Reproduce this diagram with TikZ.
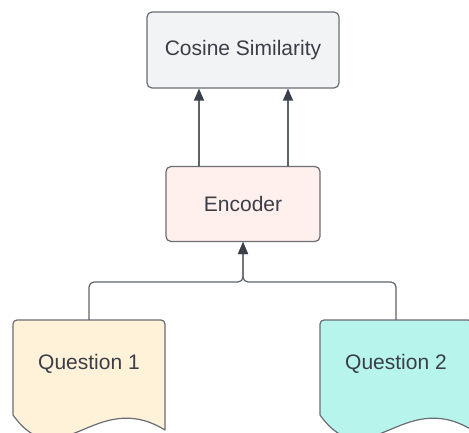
\documentclass[tikz,border=0pt]{standalone}
\usepackage{fontspec}
\setmainfont{Liberation Sans}
\usetikzlibrary{arrows.meta}

\definecolor{edgegray}{HTML}{6A6D74}
\definecolor{linkgray}{HTML}{5E6269}
\definecolor{tipgray}{HTML}{3A414A}
\definecolor{textgray}{HTML}{3A3F47}
\definecolor{cosfill}{HTML}{F2F3F5}
\definecolor{encfill}{HTML}{FFEFED}
\definecolor{qonefill}{HTML}{FFF2D9}
\definecolor{qtwofill}{HTML}{B7F4EC}

% document outline, #1 = left edge, #2 = fill
\newcommand{\docshape}[2]{
  \draw[draw=edgegray, line width=1.2pt, fill=#2]
    (#1,17) -- (#1,108) arc[start angle=180, end angle=90, radius=4]
    -- ({#1+148},112) arc[start angle=90, end angle=0, radius=4]
    -- ({#1+152},2) .. controls ({#1+82},45) and ({#1+47},-48) .. (#1,17) -- cycle;
}

\begin{document}
\begin{tikzpicture}[x=1pt, y=1pt, line cap=round, line join=round,
    box/.style={draw=edgegray, line width=1.2pt, rounded corners=5pt, text=textgray,
      font=\fontsize{21}{25}\selectfont},
    doctext/.style={text=textgray, minimum width=152pt, minimum height=88pt,
      font=\fontsize{21}{25}\selectfont},
    link/.style={draw=linkgray, line width=1.2pt, rounded corners=5pt,
      -{Triangle[length=12pt, width=10pt, color=tipgray]}}]

    \useasboundingbox (0,0) rectangle (469,432);

    \docshape{13}{qonefill}
    \docshape{320}{qtwofill}

    \node[box, fill=cosfill, minimum width=192pt, minimum height=76pt] (cos) at (243,382) {Cosine Similarity};
    \node[box, fill=encfill, minimum width=154pt, minimum height=75pt] (enc) at (243,228) {Encoder};
    \node[doctext] (q1) at (89,68) {Question 1};
    \node[doctext] (q2) at (396,68) {Question 2};

    \coordinate (join) at (243,150);

    \draw[link] (q1.north) |- (join) -- (enc.south);
    \draw[link] (q2.north) |- (join) -- (enc.south);

    \draw[link] ([xshift=-44pt]enc.north) -- ([xshift=-44pt]cos.south);
    \draw[link] ([xshift=45pt]enc.north) -- ([xshift=45pt]cos.south);

\end{tikzpicture}
\end{document}
